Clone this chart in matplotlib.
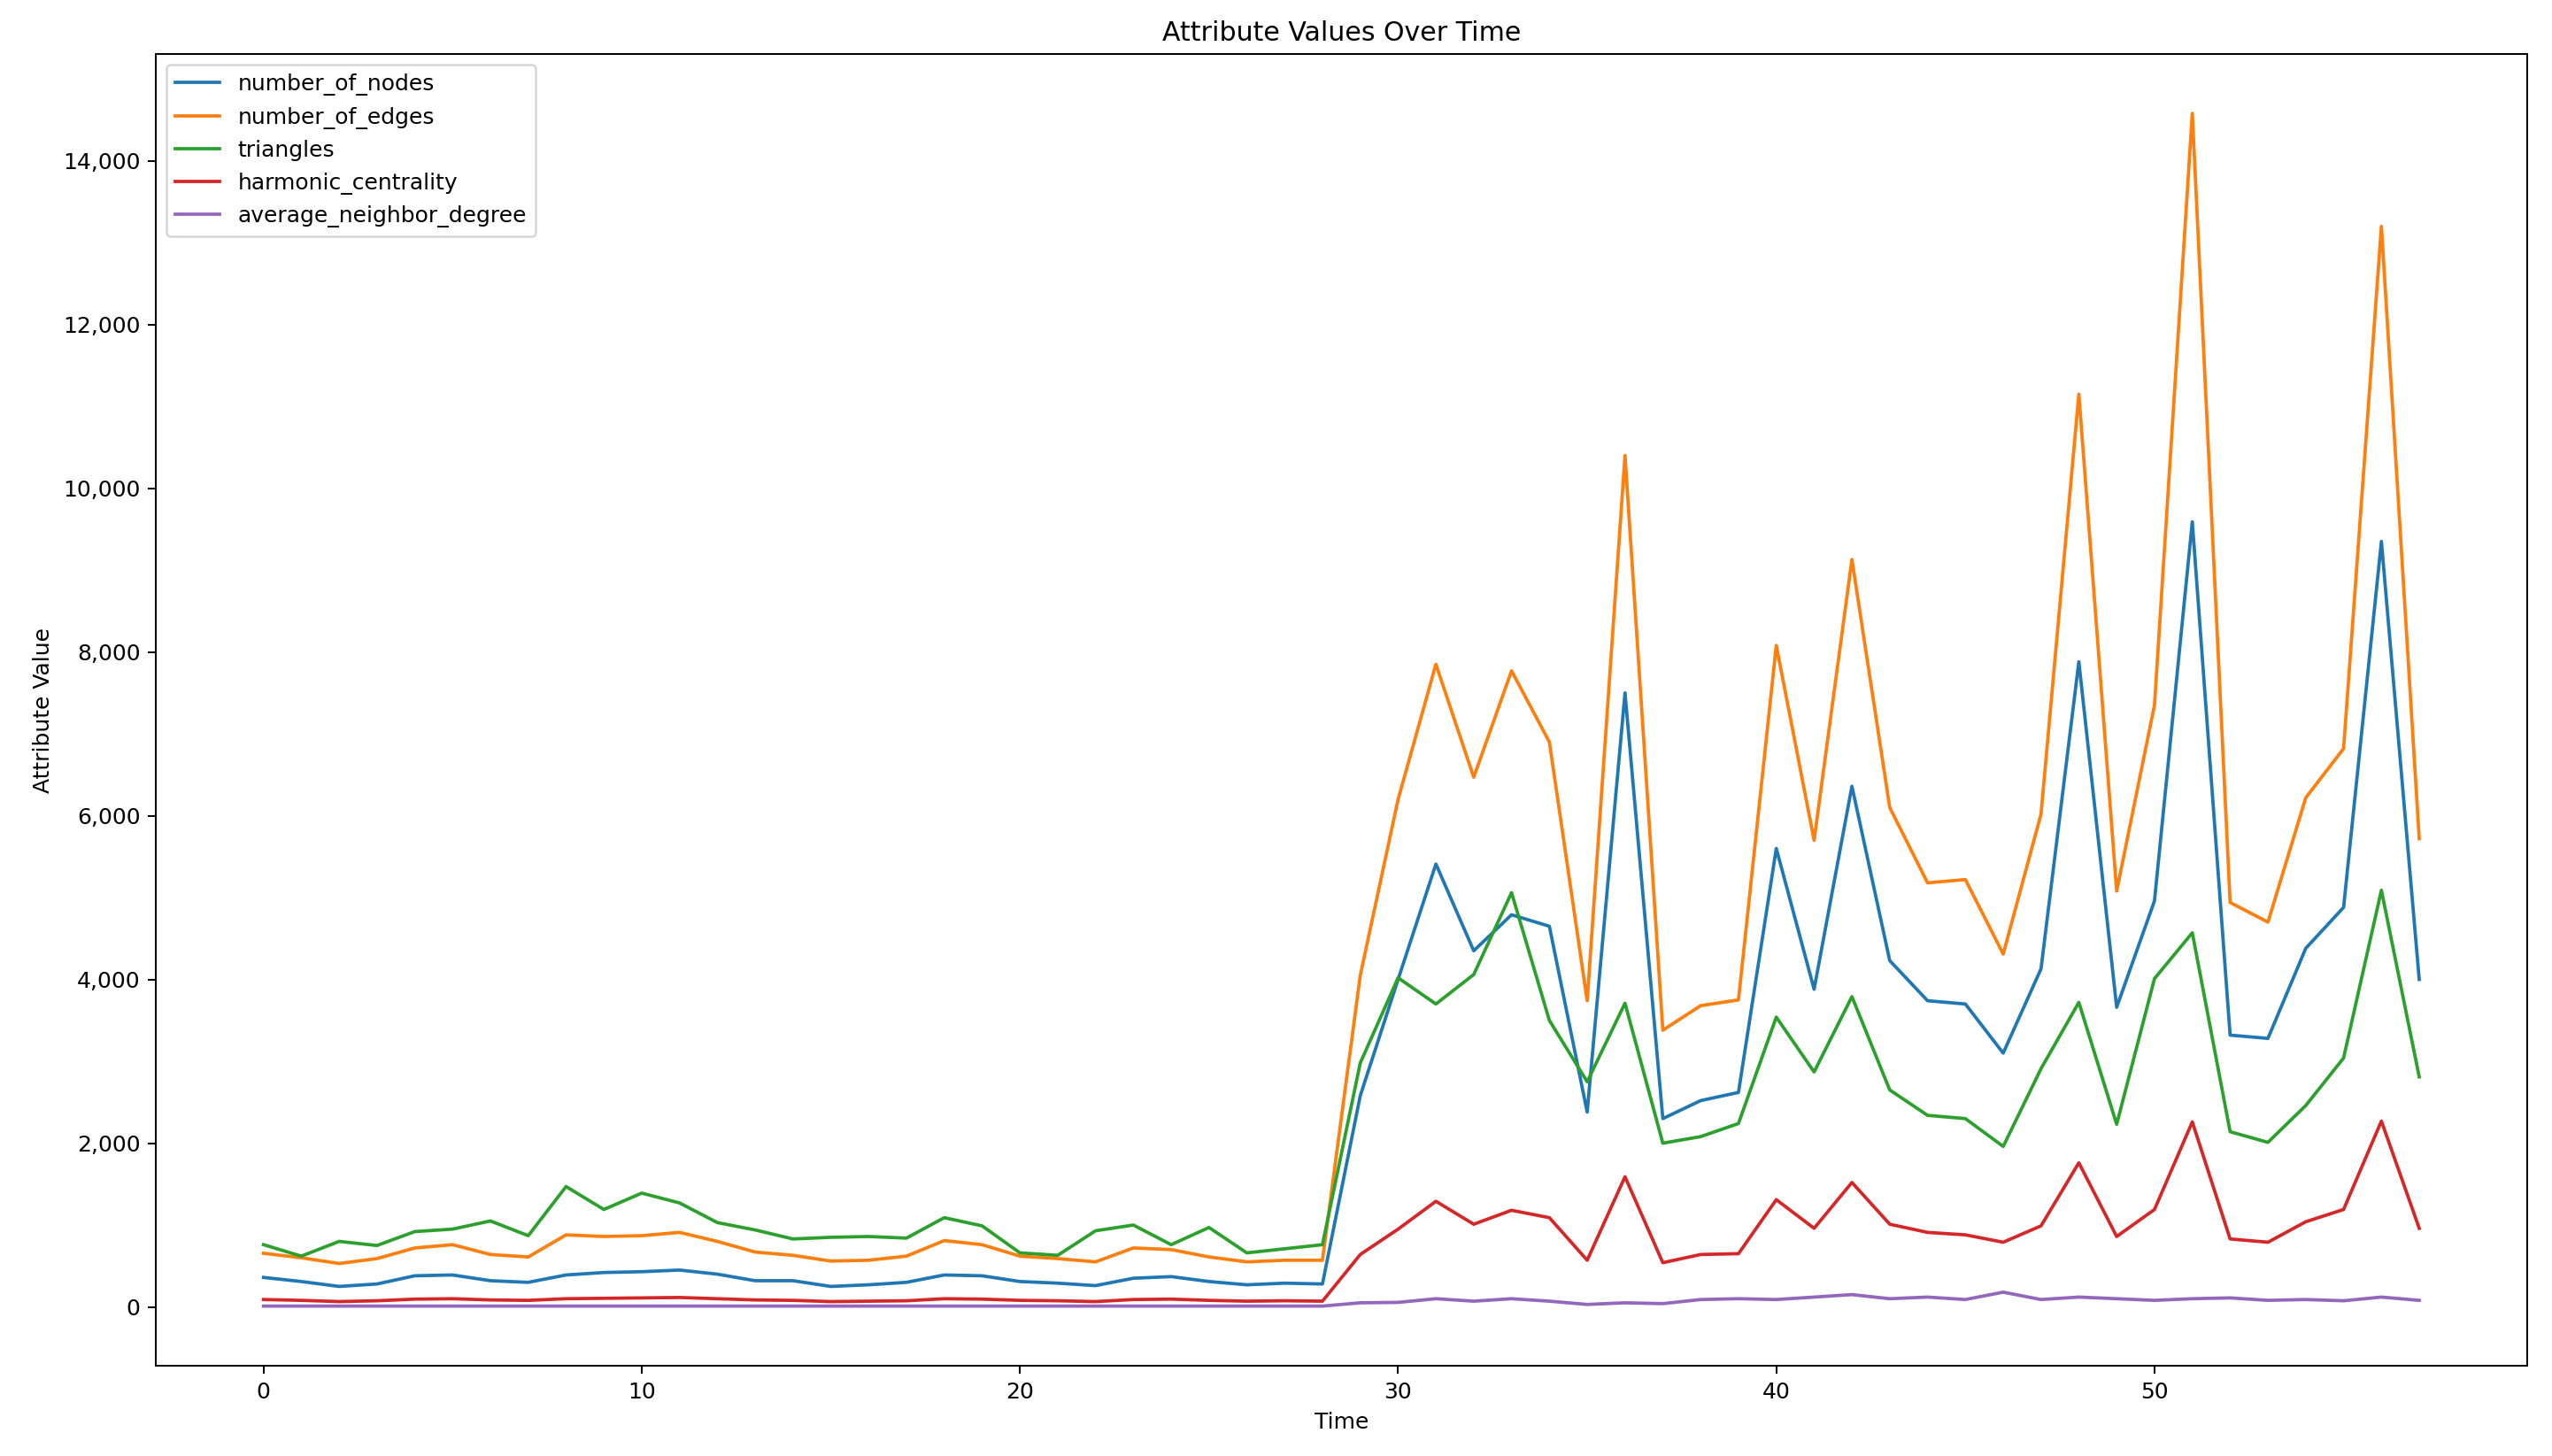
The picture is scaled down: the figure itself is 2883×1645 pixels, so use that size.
import numpy as np
import matplotlib
matplotlib.use("Agg")
import matplotlib.pyplot as plt
from matplotlib.ticker import FuncFormatter

time = np.arange(58)

number_of_nodes = [360, 310, 250, 280, 380, 390, 320, 300, 390, 420, 430, 450, 400, 320, 320,
                   250, 270, 300, 390, 380, 310, 290, 260, 350, 370, 310, 270, 290, 280,
                   2580, 4000, 5410, 4350, 4790, 4650, 2380, 7500, 2300, 2520, 2620, 5600,
                   3880, 6360, 4230, 3740, 3700, 3100, 4130, 7880, 3660, 4960, 9590, 3320,
                   3280, 4380, 4880, 9350, 4000]
number_of_edges = [655, 600, 530, 590, 720, 760, 640, 610, 880, 860, 870, 910, 800, 670, 630,
                   560, 570, 620, 810, 760, 620, 590, 550, 720, 700, 610, 550, 570, 570,
                   4050, 6200, 7850, 6470, 7770, 6900, 3740, 10400, 3380, 3680, 3750, 8080,
                   5700, 9130, 6100, 5180, 5220, 4310, 6020, 11150, 5080, 7350, 14580, 4940,
                   4700, 6220, 6820, 13200, 5720]
triangles = [760, 620, 800, 750, 920, 950, 1050, 870, 1470, 1190, 1390, 1270, 1030, 940, 830,
             850, 860, 840, 1090, 990, 660, 630, 930, 1000, 760, 970, 660, 710, 760,
             2980, 4020, 3700, 4060, 5060, 3500, 2750, 3710, 2000, 2080, 2240, 3540,
             2870, 3790, 2650, 2340, 2300, 1960, 2910, 3720, 2230, 4010, 4570, 2140,
             2010, 2460, 3040, 5090, 2810]
harmonic_centrality = [90, 80, 65, 75, 95, 100, 85, 80, 100, 105, 110, 115, 100, 85, 80,
                       65, 70, 75, 100, 95, 80, 75, 65, 90, 95, 80, 70, 75, 70,
                       640, 950, 1290, 1010, 1180, 1090, 570, 1590, 540, 640, 650, 1310,
                       960, 1520, 1010, 910, 880, 790, 990, 1760, 860, 1190, 2260, 830,
                       790, 1040, 1190, 2270, 960]
average_neighbor_degree = [10] * 29 + [50, 55, 100, 70, 100, 70, 30, 50, 40, 90, 100, 90,
                                       120, 150, 100, 120, 90, 180, 90, 120, 100, 80, 100, 110,
                                       80, 90, 75, 120, 80]

series = {
    "number_of_nodes": number_of_nodes,
    "number_of_edges": number_of_edges,
    "triangles": triangles,
    "harmonic_centrality": harmonic_centrality,
    "average_neighbor_degree": average_neighbor_degree,
}

fig, ax = plt.subplots(figsize=(16.02, 9.14), dpi=180)
for name, vals in series.items():
    ax.plot(time, vals, label=name)

ax.set_title("Attribute Values Over Time")
ax.set_xlabel("Time")
ax.set_ylabel("Attribute Value")
ax.yaxis.set_major_formatter(FuncFormatter(lambda v, p: f"{v:,.0f}"))
ax.legend(loc="upper left")

fig.subplots_adjust(left=0.061, right=0.990, top=0.963, bottom=0.062)
fig.savefig("out.png")
